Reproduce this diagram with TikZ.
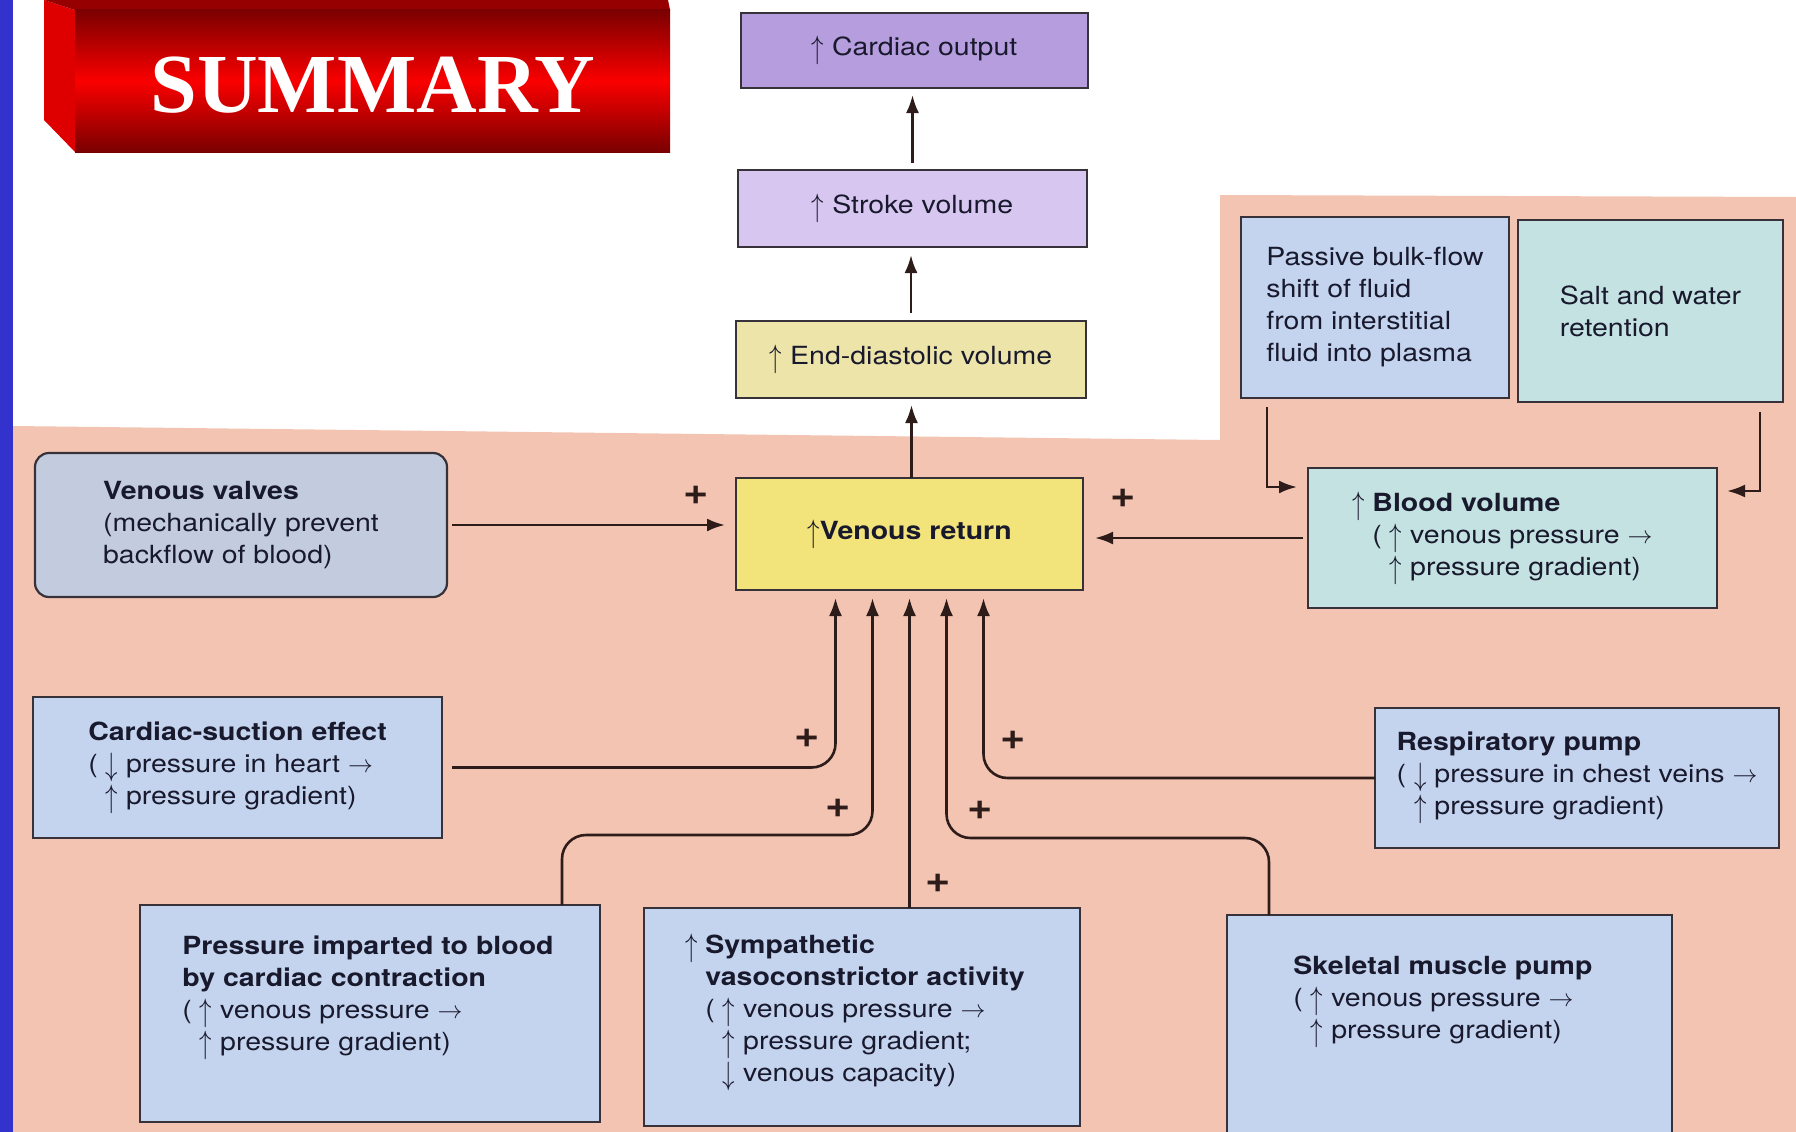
\documentclass[tikz,border=0pt]{standalone}
\usepackage{fontspec}
\setmainfont[FakeStretch=1.14]{TeX Gyre Heros}
\newfontfamily\titlefont{Liberation Serif}
\usetikzlibrary{arrows.meta}

\newcommand{\uarr}{\raisebox{-0.12em}{\scalebox{1}[1.3]{$\uparrow$}}}
\newcommand{\darr}{\raisebox{-0.12em}{\scalebox{1}[1.3]{$\downarrow$}}}
\newcommand{\rarr}{\ensuremath{\rightarrow}}

\begin{document}
\begin{tikzpicture}[x=1pt, y=-1pt, inner xsep=0pt, inner ysep=0pt, outer xsep=0pt, outer ysep=0pt,
  box/.style={draw=lineC, line width=2.2pt, align=left, text=inkC, font=\fontsize{25}{32}\selectfont},
  txt/.style={align=left, text=inkC, font=\fontsize{25}{32}\selectfont},
  conn/.style={draw=wireC, line width=2.6pt, -{Latex[length=18pt,width=13pt]}},
  elbow/.style={rounded corners=24pt},
  sign/.style={text=wireC, font=\fontsize{38}{38}\selectfont\bfseries}]
\useasboundingbox (0,0) rectangle (1796,1132);
\definecolor{barC}{RGB}{52,50,204}
\definecolor{pinkC}{RGB}{243,196,178}
\definecolor{lineC}{RGB}{55,50,58}
\definecolor{wireC}{RGB}{45,28,25}
\definecolor{inkC}{RGB}{25,25,45}
\definecolor{coC}{RGB}{182,158,222}
\definecolor{svC}{RGB}{214,198,240}
\definecolor{edvC}{RGB}{236,228,168}
\definecolor{vrC}{RGB}{242,228,122}
\definecolor{vvC}{RGB}{194,204,222}
\definecolor{paleC}{RGB}{196,212,238}
\definecolor{tealC}{RGB}{196,226,226}
\definecolor{redD}{RGB}{122,0,0}
\definecolor{redM}{RGB}{250,0,0}
\definecolor{redL}{RGB}{222,0,0}
\definecolor{redT}{RGB}{150,0,0}
% background
\path[fill=white] (0,0) rectangle (1796,1132);
\path[fill=pinkC] (13,426) -- (1220,440) -- (1220,195) -- (1796,197) -- (1796,1132) -- (13,1132) -- cycle;
\path[fill=barC] (0,0) rectangle (13,1132);
% title block
\path[fill=redL] (44,0) -- (75,10) -- (75,152) -- (44,120) -- cycle;
\path[fill=redT] (44,0) -- (668,0) -- (670,10) -- (75,10) -- cycle;
\shade[top color=redD, bottom color=redD, middle color=redM] (75,10) rectangle (670,152);
\node[anchor=base, text=white, font=\titlefont\bfseries\fontsize{84}{84}\selectfont] (title) at (373,112) {SUMMARY};
% main column
\node[box, fill=coC, minimum width=347pt, minimum height=75pt] (co) at (914.5,50.5) {\uarr{} Cardiac output};
\node[box, fill=svC, minimum width=349pt, minimum height=77pt] (sv) at (912.5,208.5) {\uarr{} Stroke volume};
\node[box, fill=edvC, minimum width=350pt, minimum height=77pt] (edv) at (911,359.5) {\uarr{} End-diastolic volume};
\node[box, fill=vrC, minimum width=347pt, minimum height=112pt] (vr) at (909.5,534) {\uarr\textbf{Venous return}};
% factors
\node[box, fill=vvC, rounded corners=14pt, minimum width=412pt, minimum height=144pt] (vv) at (241,525) {\textbf{Venous valves}\\(mechanically prevent\\backflow of blood)};
\node[box, fill=paleC, minimum width=409pt, minimum height=141pt] (cs) at (237.5,767.5) {\textbf{Cardiac-suction effect}\\( \darr{} pressure in heart \rarr\\\phantom{( }\uarr{} pressure gradient)};
\node[box, fill=paleC, minimum width=460pt, minimum height=217pt] (pi) at (370,1013.5) {};
\node[txt] (pitext) at (368,998) {\textbf{Pressure imparted to blood}\\\textbf{by cardiac contraction}\\( \uarr{} venous pressure \rarr\\\phantom{( }\uarr{} pressure gradient)};
\node[box, fill=paleC, minimum width=436pt, minimum height=218pt] (sym) at (862,1017) {};
\node[txt] (symtext) at (865,1012) {\llap{\uarr{} }\textbf{Sympathetic}\\\textbf{vasoconstrictor activity}\\( \uarr{} venous pressure \rarr\\\phantom{( }\uarr{} pressure gradient;\\\phantom{( }\darr{} venous capacity)};
\node[box, fill=paleC, minimum width=445pt, minimum height=230pt] (sk) at (1449.5,1030) {};
\node[txt] (sktext) at (1443,1002) {\textbf{Skeletal muscle pump}\\( \uarr{} venous pressure \rarr\\\phantom{( }\uarr{} pressure gradient)};
\node[box, fill=paleC, minimum width=404pt, minimum height=140pt] (resp) at (1577,778) {\textbf{Respiratory pump}\\( \darr{} pressure in chest veins \rarr\\\phantom{( }\uarr{} pressure gradient)};
\node[box, fill=tealC, minimum width=409pt, minimum height=140pt] (bv) at (1512.5,538) {\llap{\uarr{} }\textbf{Blood volume}\\( \uarr{} venous pressure \rarr\\\phantom{( }\uarr{} pressure gradient)};
\node[box, fill=paleC, minimum width=268pt, minimum height=181pt] (pb) at (1375,307.5) {Passive bulk-flow\\shift of fluid\\from interstitial\\fluid into plasma};
\node[box, fill=tealC, minimum width=265pt, minimum height=182pt] (salt) at (1650.5,311) {Salt and water\\retention};
% connectors
\draw[conn, shorten >=7pt] ([xshift=2pt]vr.north) -- ([xshift=2pt]vr.north |- edv.south);
\draw[conn, shorten <=8pt, shorten >=8pt] (edv.north) -- (edv.north |- sv.south);
\draw[conn, shorten <=7pt, shorten >=7pt] (sv.north) -- (sv.north |- co.south);
\draw[conn, shorten <=5pt, shorten >=11pt] (vv.east) -- (vv.east -| vr.west);
\draw[conn, shorten <=5pt, shorten >=12pt] (bv.west) -- (bv.west -| vr.east);
\draw[conn] ([xshift=26pt, yshift=-9pt]pb.south west) |- ([xshift=-11pt, yshift=-19pt]bv.north west);
\draw[conn] ([xshift=-23pt, yshift=-10pt]salt.south east) |- ([xshift=10pt, yshift=-23pt]bv.north east);
\draw[conn, elbow, shorten <=10pt] (cs.east) -| ([xshift=-74pt, yshift=-8pt]vr.south);
\draw[conn, elbow] ([xshift=-38pt]pi.north east) -- ++(0,-70) -| ([xshift=-37pt, yshift=-8pt]vr.south);
\draw[conn] (vr.south |- sym.north) -- ([yshift=-8pt]vr.south);
\draw[conn, elbow] ([xshift=42pt]sk.north west) -- ++(0,-77) -| ([xshift=37pt, yshift=-8pt]vr.south);
\draw[conn, elbow] (resp.west) -| ([xshift=74pt, yshift=-8pt]vr.south);
% signs
\node[sign] (s1) at (696,495) {+};
\node[sign] (s2) at (1123,498) {+};
\node[sign] (s3) at (807,738) {+};
\node[sign] (s4) at (838,808) {+};
\node[sign] (s5) at (938,883) {+};
\node[sign] (s6) at (980,810) {+};
\node[sign] (s7) at (1013,740) {+};
\end{tikzpicture}
\end{document}
